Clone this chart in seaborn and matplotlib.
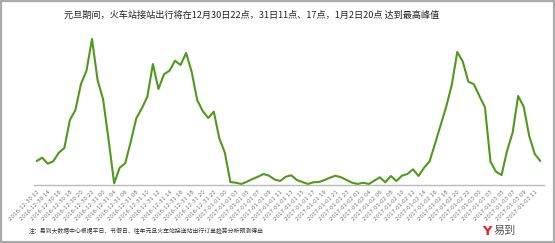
import matplotlib
matplotlib.use("Agg")
import matplotlib.pyplot as plt
import seaborn as sns
import pandas as pd
from matplotlib.patches import Rectangle

title = "元旦期间，火车站接站出行将在12月30日22点，31日11点、17点，1月2日20点 达到最高峰值"
note = "注：易到大数据中心根据平日、节假日、往年元旦火车站接送站出行订单趋势分析预测得出"

tick_labels = (
    ["2016-12-30 " + h for h in ["12", "14", "16", "18", "20", "22"]]
    + ["2016-12-31 " + h for h in ["00", "04", "06", "08", "10", "12", "14", "16", "18", "20", "22"]]
    + ["2017-01-01 " + h for h in ["00", "03", "05", "07", "09", "11", "13", "15", "17", "19", "21", "23"]]
    + ["2017-01-02 " + h for h in ["01", "04", "06", "08", "10", "12", "14", "16", "18", "20", "22"]]
    + ["2017-01-03 " + h for h in ["00", "03", "05", "07", "09", "11"]]
)

values = [24, 27.3, 21.3, 23.7, 32.3, 37, 65, 75, 101, 114.3,
          146, 105, 85.7, 45, 1.7, 17.3, 21.7, 43.3, 66.7, 76.7,
          88.3, 121, 96, 110.7, 114.3, 124.3, 120, 132, 113.3, 85,
          74, 67, 73.3, 46.7, 32.3, 3, 2.3, 1, 3.3, 6,
          8.3, 11, 9.3, 5.5, 4, 8.3, 9.7, 5, 3, 1,
          2.7, 3, 5, 7.3, 9.3, 7.7, 5, 2.3, 1, 2.3,
          1, 4.3, 7.7, 2.7, 9, 4, 9.3, 11, 15.7, 9,
          17.3, 23.7, 41.7, 60, 78.3, 100, 133, 123.3, 103.3, 100.7,
          89, 77.7, 23.3, 13.3, 10, 34.3, 52.3, 89, 78.3, 49,
          31, 24]

df = pd.DataFrame({"idx": range(len(values)), "value": values})

sns.set_theme(style="white")
plt.rcParams["font.family"] = ["Noto Sans CJK SC", "DejaVu Sans"]

W, H = 555, 243
fig = plt.figure(figsize=(W / 100, H / 100), dpi=100)
fig.patch.set_facecolor("white")

left_px, right_px, top_px, bottom_px = 34.3, 544, 35, 185
ax = fig.add_axes([left_px / W, 1 - bottom_px / H, (right_px - left_px) / W, (bottom_px - top_px) / H])
ax.set_facecolor("white")

sns.lineplot(data=df, x="idx", y="value", ax=ax, color="#4f9a1c", linewidth=1.5)

ax.set_xlim(-0.43, 91.67)
ax.set_ylim(0, 150)
ax.set_xlabel("")
ax.set_ylabel("")
ax.set_yticks([])
ax.set_xticks(list(range(0, 2 * len(tick_labels), 2)))
ax.set_xticklabels(tick_labels, rotation=45, ha="right", rotation_mode="anchor",
                   fontsize=4, color="#777777", family="DejaVu Sans")
ax.tick_params(axis="x", length=0, pad=3)
for s in ["top", "right", "left"]:
    ax.spines[s].set_visible(False)
ax.spines["bottom"].set_color("#bbbbbb")
ax.spines["bottom"].set_linewidth(1)

fig.text(252 / W, 1 - 15 / H, title, ha="center", va="center", fontsize=6.6, color="#222222")
fig.text(29 / W, 1 - 231 / H, note, ha="left", va="center", fontsize=4.2, color="#333333")
fig.text(487 / W, 1 - 231 / H, "Y", ha="center", va="center", fontsize=9.5, color="#e8222a",
         fontweight="bold", family="DejaVu Sans")
fig.text(494 / W, 1 - 231 / H, "易到", ha="left", va="center", fontsize=8, color="#555555")

fig.patches.append(Rectangle((0.002, 0.003), 0.996, 0.994, transform=fig.transFigure,
                             fill=False, edgecolor="#aaaaaa", linewidth=1.6))

fig.savefig("out.png", dpi=100, facecolor="white")
